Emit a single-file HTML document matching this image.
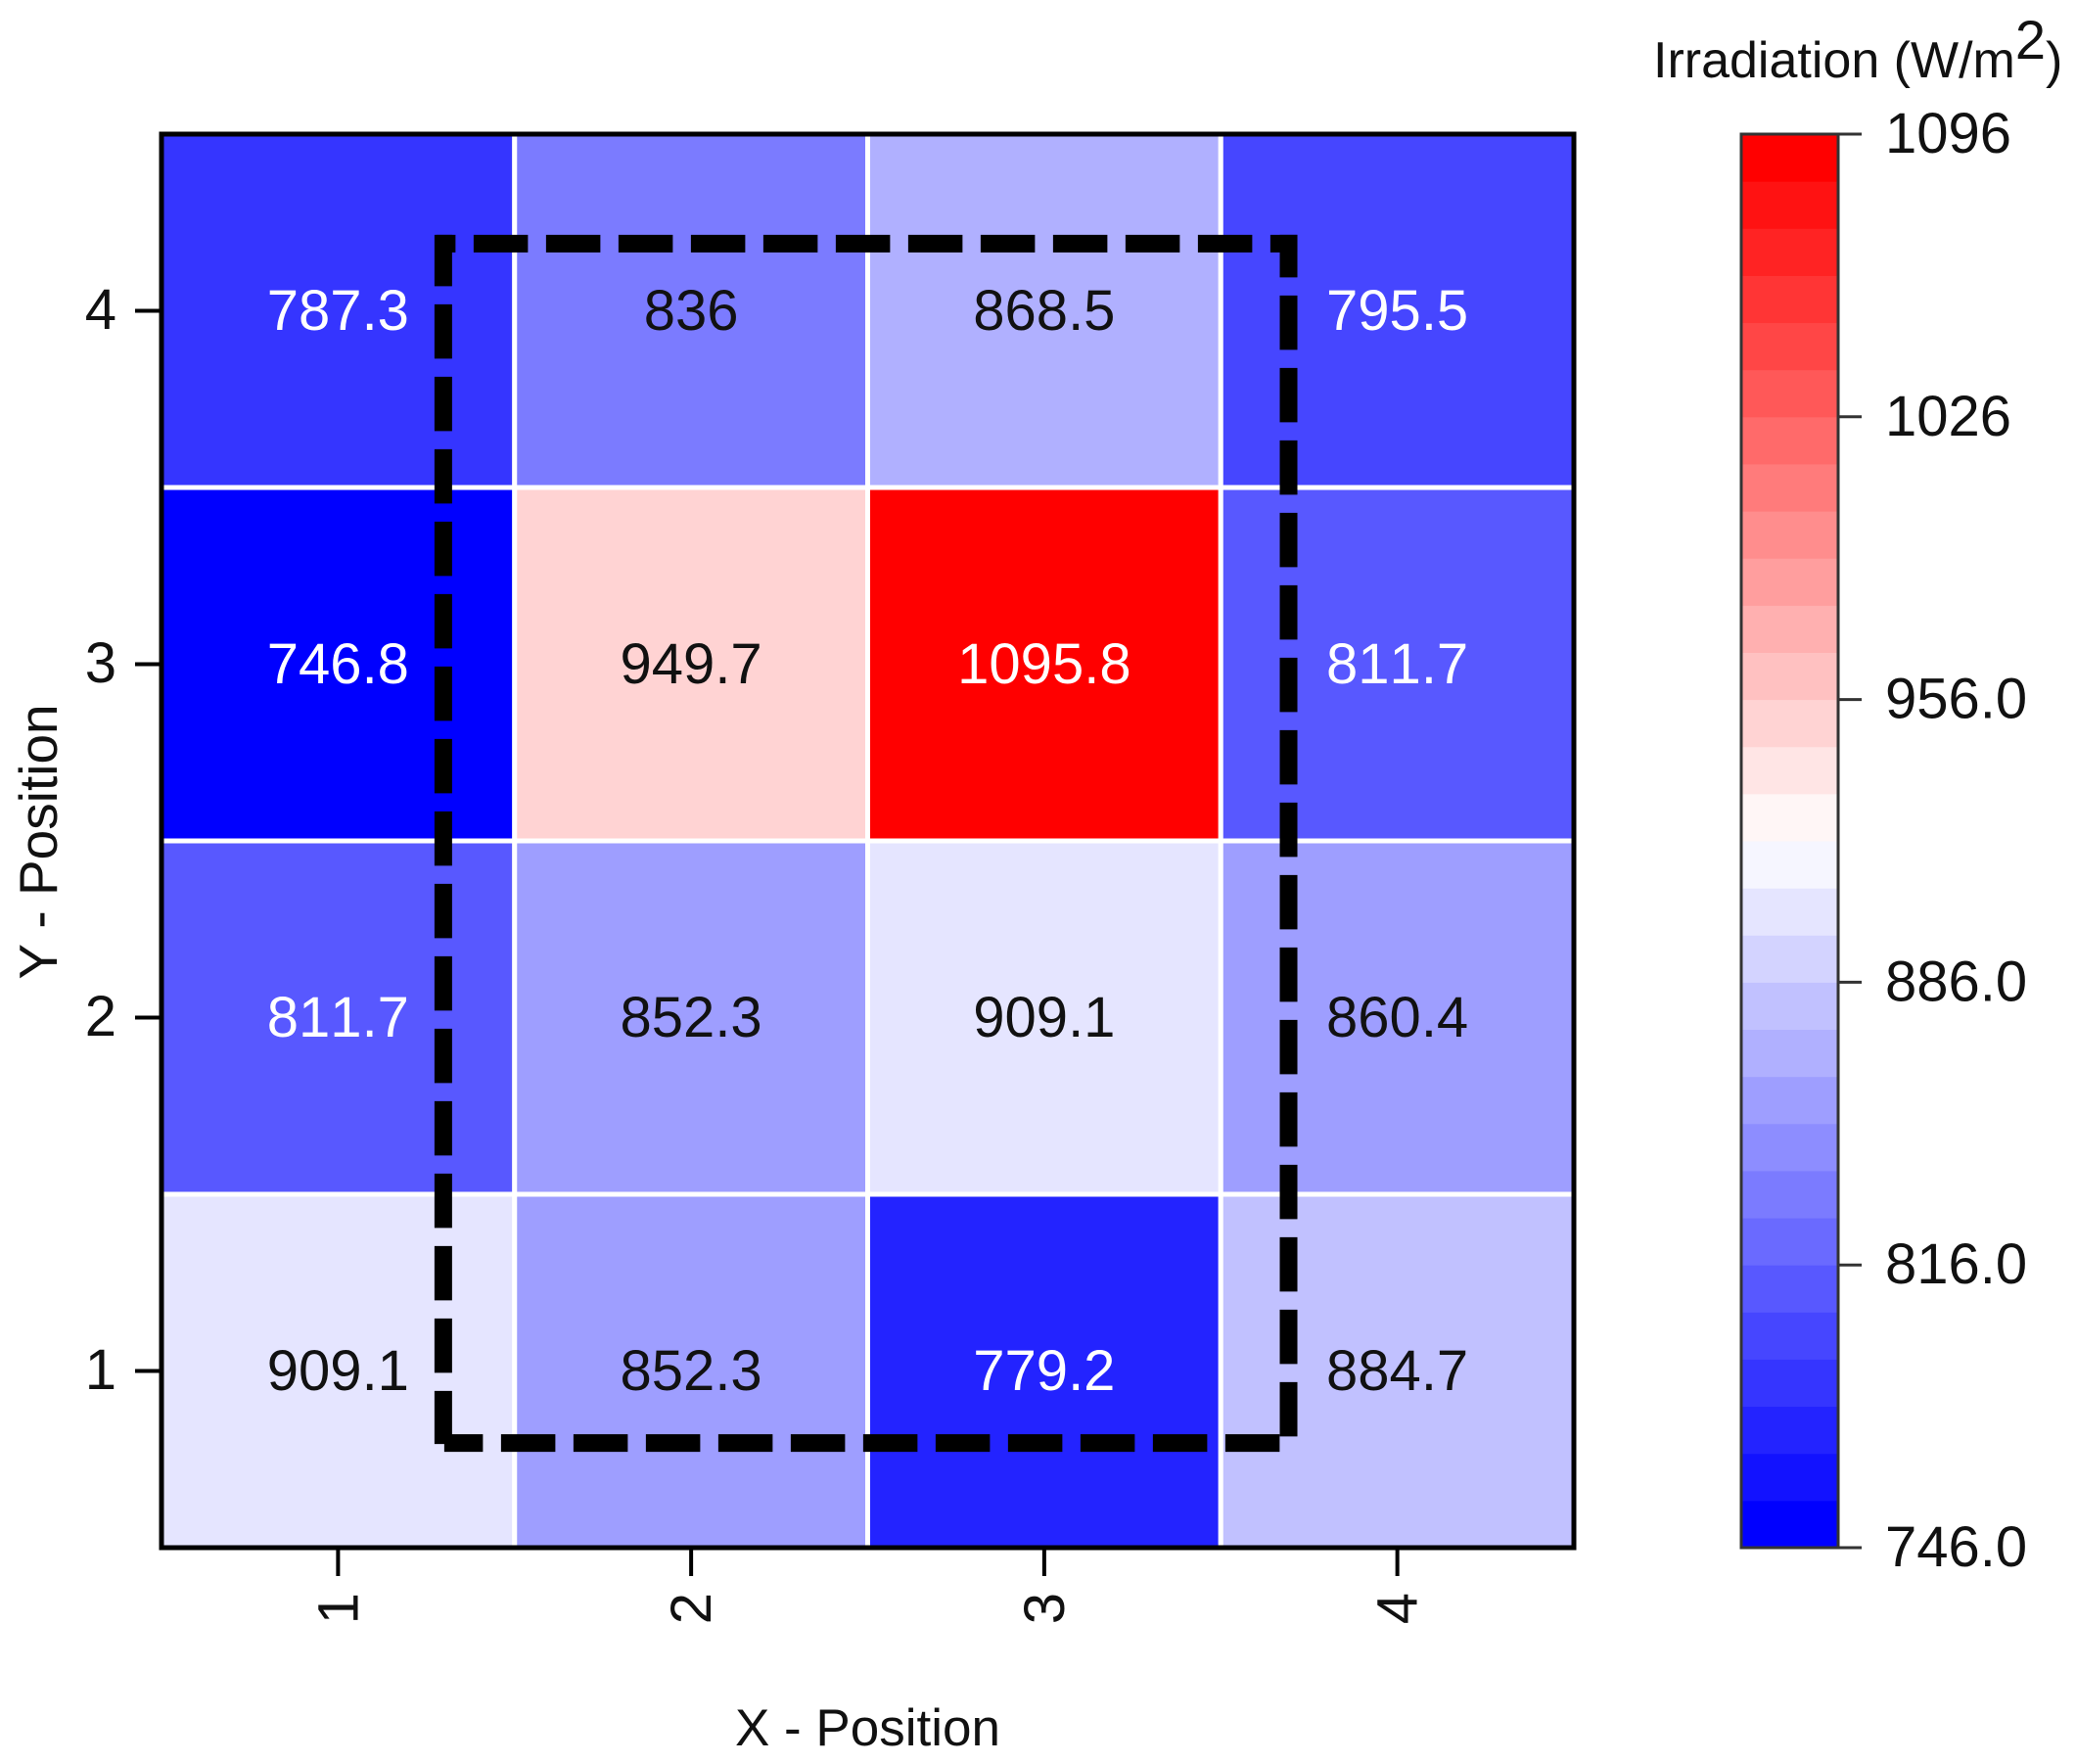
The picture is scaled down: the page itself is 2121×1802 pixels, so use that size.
<!DOCTYPE html>
<html lang="en">
<head>
<meta charset="utf-8">
<title>Irradiation heatmap</title>
<style>
  html, body { margin: 0; padding: 0; background: #fff; }
  svg { display: block; }
  text { font-family: "Liberation Sans", Arial, sans-serif; fill: #111; font-kerning: none; }
</style>
</head>
<body>
<svg id="chart" xmlns="http://www.w3.org/2000/svg" width="2121" height="1802" viewBox="0 0 2121 1802">
  <rect x="0" y="0" width="2121" height="1802" fill="#ffffff"/>
  <g id="cells"></g>
  <g id="cell-labels"></g>
  <g id="highlight"></g>
  <rect x="165" y="137" width="1443" height="1444" fill="none" stroke="#000" stroke-width="5"/>
  <g id="x-axis"></g>
  <g id="y-axis"></g>
  <text x="886.5" y="1783" font-size="53" text-anchor="middle">X - Position</text>
  <text x="58" y="860" font-size="55" text-anchor="middle" transform="rotate(-90 58 860)">Y - Position</text>
  <g id="colorbar"></g>
  <text x="1689" y="79" font-size="52">Irradiation (W/m<tspan font-size="56" dy="-19">2</tspan><tspan dy="19">)</tspan></text>
</svg>
<script>
// ---- chart data ----
const xCategories = [1, 2, 3, 4];
const yCategories = [1, 2, 3, 4];
const row1Values = [909.1, 852.3, 779.2, 884.7];
const row2Values = [811.7, 852.3, 909.1, 860.4];
const row3Values = [746.8, 949.7, 1095.8, 811.7];
const row4Values = [787.3, 836, 868.5, 795.5];
const colorbarTickValues = [1096, 1026, 956, 886, 816, 746];
const colorbarTickLabels = ['1096', '1026', '956.0', '886.0', '816.0', '746.0'];
const colorDomain = [746, 1096];
const colorLevelCount = 30;
const highlightX = [1.298, 3.692];
const highlightY = [0.796, 4.19];

const rows = [row1Values, row2Values, row3Values, row4Values];

// ---- layout ----
const NS = 'http://www.w3.org/2000/svg';
const plot = { left: 165, right: 1608, top: 137, bottom: 1581 };
const bar = { left: 1779, right: 1878, top: 137, bottom: 1581 };

function xScale(v) {
  return plot.left + (v - 0.5) / xCategories.length * (plot.right - plot.left);
}
function yScale(v) {
  return plot.bottom - (v - 0.5) / yCategories.length * (plot.bottom - plot.top);
}
function barScale(v) {
  return bar.bottom - (v - colorDomain[0]) / (colorDomain[1] - colorDomain[0]) * (bar.bottom - bar.top);
}
function levelColor(i) {
  const t = i / (colorLevelCount - 1) * 2;
  if (t <= 1) {
    const c = Math.round(255 * t);
    return 'rgb(' + c + ',' + c + ',255)';
  }
  const c = Math.round(255 * (2 - t));
  return 'rgb(255,' + c + ',' + c + ')';
}
function valueColor(v) {
  const raw = Math.floor((v - colorDomain[0]) / (colorDomain[1] - colorDomain[0]) * colorLevelCount);
  return levelColor(Math.max(0, Math.min(colorLevelCount - 1, raw)));
}
function make(tag, attrs, text) {
  const el = document.createElementNS(NS, tag);
  Object.keys(attrs).forEach(function (k) { el.setAttribute(k, attrs[k]); });
  if (text !== undefined) el.textContent = text;
  return el;
}

// ---- heatmap cells ----
const cellsGroup = document.getElementById('cells');
const labelsGroup = document.getElementById('cell-labels');
yCategories.forEach(function (yc, r) {
  xCategories.forEach(function (xc, c) {
    const value = rows[r][c];
    const x0 = xScale(xc - 0.5), x1 = xScale(xc + 0.5);
    const y0 = yScale(yc + 0.5), y1 = yScale(yc - 0.5);
    const rect = make('rect', { x: x0, y: y0, width: x1 - x0, height: y1 - y0, fill: valueColor(value), stroke: '#fff', 'stroke-width': 5 });
    
    
    cellsGroup.appendChild(rect);
    const light = value < 830 || value > 1000;
    const label = make('text', { x: xScale(xc), y: yScale(yc) + 19.5, 'font-size': 58, 'text-anchor': 'middle' }, String(value));
    label.style.fill = light ? '#ffffff' : '#111111';
    
    
    labelsGroup.appendChild(label);
  });
});

// ---- dashed highlight ----
const highlightGroup = document.getElementById('highlight');
const hx0 = xScale(highlightX[0]), hx1 = xScale(highlightX[1]);
const hy0 = yScale(highlightY[1]), hy1 = yScale(highlightY[0]);
const dashSides = [
  { name: 'highlight-top-edge', x1: hx0 - 7, y1: hy0, x2: hx1 + 9, y2: hy0, offset: 36 },
  { name: 'highlight-right-edge', x1: hx1, y1: hy0 - 9, x2: hx1, y2: hy1 + 9, offset: 12 },
  { name: 'highlight-bottom-edge', x1: hx0 + 1, y1: hy1, x2: hx1 - 9, y2: hy1, offset: 16 },
  { name: 'highlight-left-edge', x1: hx0, y1: hy0 - 9, x2: hx0, y2: hy1 + 1, offset: 3 }
];
dashSides.forEach(function (s) {
  const line = make('line', { x1: s.x1, y1: s.y1, x2: s.x2, y2: s.y2, stroke: '#000', 'stroke-width': 18, 'stroke-dasharray': '55.5 18.5', 'stroke-dashoffset': s.offset });
  
  
  highlightGroup.appendChild(line);
});

// ---- axes ----
const xAxisGroup = document.getElementById('x-axis');
xCategories.forEach(function (xc) {
  const px = xScale(xc);
  const tick = make('line', { x1: px, y1: plot.bottom, x2: px, y2: 1610, stroke: '#000', 'stroke-width': 4 });
  
  
  xAxisGroup.appendChild(tick);
  const lx = px + 20, ly = 1627;
  const label = make('text', { x: lx, y: ly, 'font-size': 58, 'text-anchor': 'end', transform: 'rotate(-90 ' + lx + ' ' + ly + ')' }, String(xc));
  
  
  xAxisGroup.appendChild(label);
});

const yAxisGroup = document.getElementById('y-axis');
yCategories.forEach(function (yc) {
  const py = yScale(yc);
  const tick = make('line', { x1: 138, y1: py, x2: plot.left, y2: py, stroke: '#000', 'stroke-width': 4 });
  
  
  yAxisGroup.appendChild(tick);
  const label = make('text', { x: 119, y: py + 18.5, 'font-size': 58, 'text-anchor': 'end' }, String(yc));
  
  
  yAxisGroup.appendChild(label);
});

// ---- colorbar ----
const barGroup = document.getElementById('colorbar');
for (let i = 0; i < colorLevelCount; i++) {
  const span = colorDomain[1] - colorDomain[0];
  const low = colorDomain[0] + i * span / colorLevelCount;
  const high = colorDomain[0] + (i + 1) * span / colorLevelCount;
  const band = make('rect', { x: bar.left, y: barScale(high), width: bar.right - bar.left, height: barScale(low) - barScale(high) + 0.5, fill: levelColor(i) });
  
  
  barGroup.appendChild(band);
}
const barFrame = make('rect', { x: bar.left, y: bar.top, width: bar.right - bar.left, height: bar.bottom - bar.top, fill: 'none', stroke: '#333', 'stroke-width': 3 });


barGroup.appendChild(barFrame);
colorbarTickValues.forEach(function (v, i) {
  const py = barScale(v);
  const tick = make('line', { x1: bar.right, y1: py, x2: 1902, y2: py, stroke: '#333', 'stroke-width': 3 });
  
  
  barGroup.appendChild(tick);
  const label = make('text', { x: 1926, y: py + 19, 'font-size': 58 }, colorbarTickLabels[i]);
  
  
  barGroup.appendChild(label);
});
</script>
</body>
</html>
